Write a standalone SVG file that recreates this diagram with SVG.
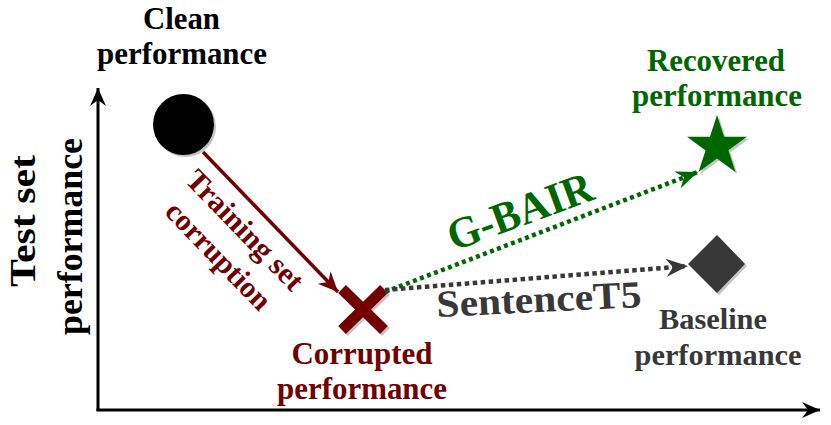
<svg xmlns="http://www.w3.org/2000/svg" width="831" height="425" viewBox="0 0 831 425" font-family="'Liberation Serif', 'Times New Roman', serif">
<style>
text{font-family:"Liberation Serif","Times New Roman",serif;font-weight:bold;text-anchor:middle}
.red{fill:#720000}
.grn{fill:#006600}
.gry{fill:#383838}
.blk{fill:#000}
.shadow{fill:#c4c4c4}
</style>
<defs>
<marker id="ah-blk" markerUnits="userSpaceOnUse" viewBox="-18 -9 18 18" refX="0" refY="0" markerWidth="18" markerHeight="18" orient="auto">
<path d="M0,0 L-18,-8 L-12,0 L-18,8 Z" fill="#000"/>
</marker>
<marker id="ah-red" markerUnits="userSpaceOnUse" viewBox="-20 -10 20 20" refX="0" refY="0" markerWidth="20" markerHeight="20" orient="auto">
<path d="M0,0 L-20,-9 L-14,0 L-20,9 Z" fill="#720000"/>
</marker>
<marker id="ah-grn" markerUnits="userSpaceOnUse" viewBox="-22 -10 22 20" refX="0" refY="0" markerWidth="22" markerHeight="20" orient="auto">
<path d="M0,0 L-22,-9 L-15,0 L-22,9 Z" fill="#006600"/>
</marker>
<marker id="ah-gry" markerUnits="userSpaceOnUse" viewBox="-22 -10 22 20" refX="0" refY="0" markerWidth="22" markerHeight="20" orient="auto">
<path d="M0,0 L-22,-9 L-15,0 L-22,9 Z" fill="#383838"/>
</marker>
</defs>

<g id="axes">
<line x1="98" y1="411" x2="98" y2="88" stroke="#000" stroke-width="3" marker-end="url(#ah-blk)"/>
<line x1="96.5" y1="410" x2="820" y2="410" stroke="#000" stroke-width="3" marker-end="url(#ah-blk)"/>
<text transform="translate(35,221) rotate(-90)" font-size="35" textLength="132" lengthAdjust="spacingAndGlyphs" class="blk">Test set</text>
<text transform="translate(82,236.5) rotate(-90)" font-size="35" textLength="197" lengthAdjust="spacingAndGlyphs" class="blk">performance</text>
</g>

<g id="clean">
<circle cx="185.5" cy="126.5" r="30.5" class="shadow"/>
<circle cx="183.5" cy="124.5" r="30.5" fill="#000"/>
<text x="181.5" y="29" font-size="31" textLength="77" lengthAdjust="spacingAndGlyphs" class="blk">Clean</text>
<text x="182" y="64" font-size="31" textLength="170" lengthAdjust="spacingAndGlyphs" class="blk">performance</text>
</g>

<g id="corrupted">
<g stroke="#c4c4c4" stroke-width="11" transform="translate(2,2)">
<line x1="342" y1="289" x2="384" y2="330"/>
<line x1="384" y1="289" x2="342" y2="330"/>
</g>
<g stroke="#720000" stroke-width="11">
<line x1="342" y1="289" x2="384" y2="330"/>
<line x1="384" y1="289" x2="342" y2="330"/>
</g>
<text x="362" y="364" font-size="32" textLength="141" lengthAdjust="spacingAndGlyphs" class="red">Corrupted</text>
<text x="362" y="399" font-size="32" textLength="170" lengthAdjust="spacingAndGlyphs" class="red">performance</text>
</g>

<g id="recovered">
<polygon transform="translate(719,148.5)" class="shadow" points="0,-31.5 7.05,-9.7 29.96,-9.7 11.41,3.7 18.51,25.48 0,12 -18.51,25.48 -11.41,3.7 -29.96,-9.7 -7.05,-9.7"/>
<polygon transform="translate(717,146.5)" fill="#006600" points="0,-31.5 7.05,-9.7 29.96,-9.7 11.41,3.7 18.51,25.48 0,12 -18.51,25.48 -11.41,3.7 -29.96,-9.7 -7.05,-9.7"/>
<text x="716" y="71" font-size="31" textLength="138" lengthAdjust="spacingAndGlyphs" class="grn">Recovered</text>
<text x="717" y="106" font-size="31" textLength="170" lengthAdjust="spacingAndGlyphs" class="grn">performance</text>
</g>

<g id="baseline">
<polygon class="shadow" points="719,237 747,266 719,295 690,266"/>
<polygon fill="#383838" points="717,235 745,264 717,293 688,264"/>
<text x="713" y="329" font-size="30" textLength="108" lengthAdjust="spacingAndGlyphs" class="gry">Baseline</text>
<text x="718" y="365" font-size="30" textLength="167" lengthAdjust="spacingAndGlyphs" class="gry">performance</text>
</g>

<g id="connectors">
<line x1="203" y1="152" x2="338" y2="292" stroke="#720000" stroke-width="3.5" marker-end="url(#ah-red)"/>
<g transform="translate(225,249.5) rotate(46)">
<text x="0" y="-18" font-size="30" textLength="155" lengthAdjust="spacingAndGlyphs" class="red">Training set</text>
<text x="0" y="19" font-size="30" textLength="138" lengthAdjust="spacingAndGlyphs" class="red">corruption</text>
</g>
<line x1="385" y1="292" x2="698" y2="172" stroke="#006600" stroke-width="4.5" stroke-dasharray="4 3.5" marker-end="url(#ah-grn)"/>
<text transform="translate(525,225) rotate(-20.2)" font-size="44" textLength="152" lengthAdjust="spacingAndGlyphs" class="grn">G-BAIR</text>
<line x1="385" y1="290" x2="688" y2="266" stroke="#383838" stroke-width="4.5" stroke-dasharray="4.5 3.5" marker-end="url(#ah-gry)"/>
<text transform="translate(539.5,312) rotate(-2.8)" font-size="38" textLength="205" lengthAdjust="spacingAndGlyphs" class="gry">SentenceT5</text>
</g>
</svg>
